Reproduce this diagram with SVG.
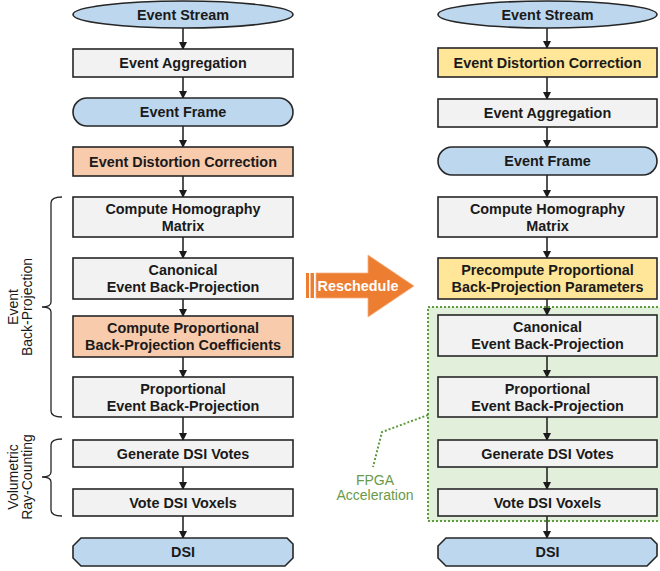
<svg xmlns="http://www.w3.org/2000/svg" width="660" height="571" viewBox="0 0 660 571">
<style>
.n{stroke:#262626;stroke-width:1.6}
.b{fill:#BDD7EE}.g{fill:#F2F2F2}.o{fill:#F8CBAD}.y{fill:#FFE699}
.t{font-family:"Liberation Sans",Arial,sans-serif;font-size:14.4px;font-weight:bold;fill:#1a1a1a;text-anchor:middle}
.r{font-family:"Liberation Sans",Arial,sans-serif;font-size:14px;fill:#1a1a1a;text-anchor:middle}
.c line{stroke:#1a1a1a;stroke-width:1.5}
.br{fill:none;stroke:#262626;stroke-width:1.3}
</style>
<defs>
<marker id="ah" markerWidth="8" markerHeight="8" refX="7" refY="4" orient="auto" markerUnits="userSpaceOnUse">
<path d="M0,0 L8,4 L0,8 Z" fill="#1a1a1a"/>
</marker>
</defs>
<g id="fpga-region">
<rect x="428" y="307" width="236" height="214" fill="#E2EFDA" stroke="#5E9B3C" stroke-width="2" stroke-dasharray="2 2"/>
<path d="M428,415 L382,432 L373,467" fill="none" stroke="#5E9B3C" stroke-width="2" stroke-dasharray="2 2"/>
<text class="r" x="375" y="485" style="fill:#6A9A48">FPGA</text>
<text class="r" x="375" y="500" style="fill:#6A9A48">Acceleration</text>
</g>
<g class="c">
<line x1="183" y1="28" x2="183" y2="49" marker-end="url(#ah)"/>
<line x1="183" y1="77" x2="183" y2="98" marker-end="url(#ah)"/>
<line x1="183" y1="126" x2="183" y2="147" marker-end="url(#ah)"/>
<line x1="183" y1="176" x2="183" y2="197" marker-end="url(#ah)"/>
<line x1="183" y1="237" x2="183" y2="258" marker-end="url(#ah)"/>
<line x1="183" y1="299" x2="183" y2="316" marker-end="url(#ah)"/>
<line x1="183" y1="357" x2="183" y2="377" marker-end="url(#ah)"/>
<line x1="183" y1="417" x2="183" y2="440" marker-end="url(#ah)"/>
<line x1="183" y1="467" x2="183" y2="489" marker-end="url(#ah)"/>
<line x1="183" y1="516" x2="183" y2="538" marker-end="url(#ah)"/>
<line x1="547" y1="28" x2="547" y2="48" marker-end="url(#ah)"/>
<line x1="547" y1="77" x2="547" y2="99" marker-end="url(#ah)"/>
<line x1="547" y1="127" x2="547" y2="147" marker-end="url(#ah)"/>
<line x1="547" y1="175" x2="547" y2="197" marker-end="url(#ah)"/>
<line x1="547" y1="237" x2="547" y2="258" marker-end="url(#ah)"/>
<line x1="547" y1="299" x2="547" y2="315" marker-end="url(#ah)"/>
<line x1="547" y1="356" x2="547" y2="377" marker-end="url(#ah)"/>
<line x1="547" y1="417" x2="547" y2="440" marker-end="url(#ah)"/>
<line x1="547" y1="467" x2="547" y2="489" marker-end="url(#ah)"/>
<line x1="547" y1="516" x2="547" y2="538" marker-end="url(#ah)"/>
</g>
<g id="L-stream"><ellipse class="n b" cx="183" cy="14.5" rx="110" ry="13.5"/><text class="t" x="183" y="20">Event Stream</text></g>
<g id="L-agg"><rect class="n g" x="73" y="49" width="220" height="28"/><text class="t" x="183" y="68">Event Aggregation</text></g>
<g id="L-frame"><rect class="n b" x="73" y="98" width="220" height="28" rx="14"/><text class="t" x="183" y="117">Event Frame</text></g>
<g id="L-edc"><rect class="n o" x="73" y="147" width="220" height="29"/><text class="t" x="183" y="166.5">Event Distortion Correction</text></g>
<g id="L-homo"><rect class="n g" x="73" y="197" width="220" height="40"/><text class="t" x="183" y="214">Compute Homography</text><text class="t" x="183" y="231">Matrix</text></g>
<g id="L-canon"><rect class="n g" x="73" y="258" width="220" height="41"/><text class="t" x="183" y="275">Canonical</text><text class="t" x="183" y="292">Event Back-Projection</text></g>
<g id="L-coef"><rect class="n o" x="73" y="316" width="220" height="41"/><text class="t" x="183" y="333">Compute Proportional</text><text class="t" x="183" y="350">Back-Projection Coefficients</text></g>
<g id="L-prop"><rect class="n g" x="73" y="377" width="220" height="40"/><text class="t" x="183" y="394">Proportional</text><text class="t" x="183" y="411">Event Back-Projection</text></g>
<g id="L-gen"><rect class="n g" x="73" y="440" width="220" height="27"/><text class="t" x="183" y="458.5">Generate DSI Votes</text></g>
<g id="L-vote"><rect class="n g" x="73" y="489" width="220" height="27"/><text class="t" x="183" y="507.5">Vote DSI Voxels</text></g>
<g id="L-dsi"><path class="n b" d="M81,538 L287,538 L293,544 L293,558 L285,566 L81,566 L73,558 L73,546 Z"/><text class="t" x="183" y="557">DSI</text></g>
<g id="R-stream"><ellipse class="n b" cx="547.5" cy="14.5" rx="109.5" ry="13.5"/><text class="t" x="547.5" y="20">Event Stream</text></g>
<g id="R-edc"><rect class="n y" x="438" y="48" width="219" height="29"/><text class="t" x="547.5" y="67.5">Event Distortion Correction</text></g>
<g id="R-agg"><rect class="n g" x="438" y="99" width="219" height="28"/><text class="t" x="547.5" y="118">Event Aggregation</text></g>
<g id="R-frame"><rect class="n b" x="438" y="147" width="219" height="28" rx="14"/><text class="t" x="547.5" y="166">Event Frame</text></g>
<g id="R-homo"><rect class="n g" x="438" y="197" width="219" height="40"/><text class="t" x="547.5" y="214">Compute Homography</text><text class="t" x="547.5" y="231">Matrix</text></g>
<g id="R-pre"><rect class="n y" x="438" y="258" width="219" height="41"/><text class="t" x="547.5" y="275">Precompute Proportional</text><text class="t" x="547.5" y="292">Back-Projection Parameters</text></g>
<g id="R-canon"><rect class="n g" x="438" y="315" width="219" height="41"/><text class="t" x="547.5" y="332">Canonical</text><text class="t" x="547.5" y="349">Event Back-Projection</text></g>
<g id="R-prop"><rect class="n g" x="438" y="377" width="219" height="40"/><text class="t" x="547.5" y="394">Proportional</text><text class="t" x="547.5" y="411">Event Back-Projection</text></g>
<g id="R-gen"><rect class="n g" x="438" y="440" width="219" height="27"/><text class="t" x="547.5" y="458.5">Generate DSI Votes</text></g>
<g id="R-vote"><rect class="n g" x="438" y="489" width="219" height="27"/><text class="t" x="547.5" y="507.5">Vote DSI Voxels</text></g>
<g id="R-dsi"><path class="n b" d="M446,538 L651,538 L657,544 L657,556 L647,566 L446,566 L438,558 L438,546 Z"/><text class="t" x="547.5" y="557">DSI</text></g>
<g id="reschedule">
<rect x="306" y="273" width="3" height="25" fill="#ED7D31"/>
<rect x="310.5" y="273" width="3.5" height="25" fill="#ED7D31"/>
<path d="M316,273 L368,273 L368,255 L414,286 L368,317 L368,298 L316,298 Z" fill="#ED7D31" stroke="#F4B183" stroke-width="0.8"/>
<text class="t" x="358" y="291" style="fill:#ffffff">Reschedule</text>
</g>
<g id="brace-ebp">
<path class="br" d="M62,197 Q51,197 51,203 L51,302 Q51,307 42,307 Q51,307 51,312 L51,411 Q51,417 62,417"/>
<text class="r" transform="translate(18,307) rotate(-90)">Event</text>
<text class="r" transform="translate(32,307) rotate(-90)">Back-Projection</text>
</g>
<g id="brace-vrc">
<path class="br" d="M62,439 Q51,439 51,445 L51,472 Q51,477 42,477 Q51,477 51,482 L51,510 Q51,516 62,516"/>
<text class="r" transform="translate(18,477) rotate(-90)">Volumetric</text>
<text class="r" transform="translate(32,477) rotate(-90)">Ray-Counting</text>
</g>
</svg>
